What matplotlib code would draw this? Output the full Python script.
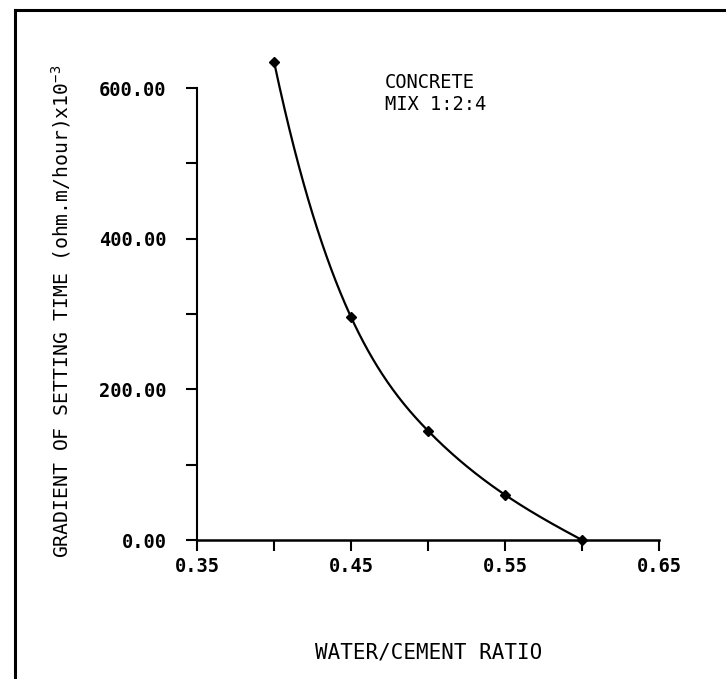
import numpy as np
import matplotlib
matplotlib.use("Agg")
import matplotlib.pyplot as plt
from matplotlib.lines import Line2D
from matplotlib.ticker import FixedLocator

# ---- data ----
wc_ratio = [0.40, 0.45, 0.50, 0.55, 0.60]
gradient = [635, 296, 145, 60, 0]
x_major = [0.35, 0.45, 0.55, 0.65]
x_minor = [0.40, 0.50, 0.60]
y_major = [0, 200, 400, 600]
y_minor = [100, 300, 500]
x_labels = ["0.35", "0.45", "0.55", "0.65"]
y_labels = ["0.00", "200.00", "400.00", "600.00"]

MONO = "DejaVu Sans Mono"
plt.rcParams["font.family"] = [MONO]
plt.rcParams["mathtext.fontset"] = "dejavusans"


def notaknot_spline(x, y, n=400):
    """Cubic spline through the points with not-a-knot end conditions."""
    x = np.asarray(x, float)
    y = np.asarray(y, float)
    m = len(x) - 1  # segments
    N = 4 * m
    A = np.zeros((N, N))
    b = np.zeros(N)
    r = 0
    # segment i: y = a + b t + c t^2 + d t^3, t = x - x_i
    for i in range(m):
        h = x[i + 1] - x[i]
        A[r, 4 * i] = 1; b[r] = y[i]; r += 1
        A[r, 4 * i:4 * i + 4] = [1, h, h ** 2, h ** 3]; b[r] = y[i + 1]; r += 1
    for i in range(m - 1):
        h = x[i + 1] - x[i]
        A[r, 4 * i:4 * i + 4] = [0, 1, 2 * h, 3 * h ** 2]; A[r, 4 * (i + 1) + 1] = -1; r += 1
        A[r, 4 * i:4 * i + 4] = [0, 0, 2, 6 * h]; A[r, 4 * (i + 1) + 2] = -2; r += 1
    A[r, 3] = 1; A[r, 7] = -1; r += 1
    A[r, 4 * (m - 2) + 3] = 1; A[r, 4 * (m - 1) + 3] = -1; r += 1
    coef = np.linalg.solve(A, b).reshape(m, 4)
    xs = np.linspace(x[0], x[-1], n)
    idx = np.clip(np.searchsorted(x, xs, side="right") - 1, 0, m - 1)
    t = xs - x[idx]
    c = coef[idx]
    ys = c[:, 0] + c[:, 1] * t + c[:, 2] * t ** 2 + c[:, 3] * t ** 3
    return xs, ys


W, H = 726, 679
fig = plt.figure(figsize=(W / 100, H / 100), dpi=100)

ax_left, ax_right = 197, 659
y0_px, y600_px = 540, 88
ppu = (y0_px - y600_px) / 600.0
ytop = 650
top_px = y0_px - ytop * ppu
ax = fig.add_axes([ax_left / W, (H - y0_px) / H, (ax_right - ax_left) / W, (y0_px - top_px) / H])
ax.set_xlim(0.35, 0.65)
ax.set_ylim(0, ytop)

xs, ys = notaknot_spline(wc_ratio, gradient)
ax.plot(xs, ys, color="black", lw=1.6, clip_on=False)
ax.plot(wc_ratio, gradient, linestyle="none", marker="D", ms=5.5, color="black", clip_on=False)

for s in ["top", "right"]:
    ax.spines[s].set_visible(False)
ax.spines["left"].set_bounds(0, 600)
ax.spines["bottom"].set_bounds(0.35, 0.65)
ax.spines["left"].set_linewidth(1.5)
ax.spines["bottom"].set_linewidth(1.8)

ax.xaxis.set_major_locator(FixedLocator(x_major))
ax.xaxis.set_minor_locator(FixedLocator(x_minor))
ax.yaxis.set_major_locator(FixedLocator(y_major))
ax.yaxis.set_minor_locator(FixedLocator(y_minor))
ax.set_xticklabels(x_labels, fontsize=13.5, fontweight="bold")
ax.set_yticklabels(y_labels, fontsize=13.5, fontweight="bold")
ax.tick_params(axis="both", which="both", direction="out", length=8, width=1.5, color="black")
ax.tick_params(axis="y", which="major", pad=14)
ax.tick_params(axis="x", which="major", pad=4)

fig.text(429 / W, 1 - 653 / H, "WATER/CEMENT RATIO", ha="center", va="center", fontsize=15)
fig.text(61 / W, 1 - 311 / H, r"GRADIENT OF SETTING TIME (ohm.m/hour)x10$^{\mathtt{-3}}$",
         ha="center", va="center", rotation=90, fontsize=14.2)
fig.text(385 / W, 1 - 82 / H, "CONCRETE", ha="left", va="center", fontsize=13.5)
fig.text(385 / W, 1 - 105 / H, "MIX 1:2:4", ha="left", va="center", fontsize=13.5)

# scanned frame (top and left edges)
fig.add_artist(Line2D([15 / W, 1.0], [1 - 10 / H, 1 - 10 / H], transform=fig.transFigure,
                      color="black", lw=2.2))
fig.add_artist(Line2D([15 / W, 15 / W], [1 - 10 / H, 0.0], transform=fig.transFigure,
                      color="black", lw=2.2))

fig.savefig("out.png", dpi=100)
